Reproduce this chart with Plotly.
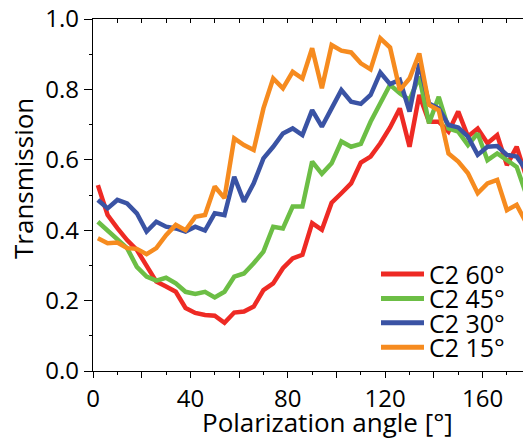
import plotly.graph_objects as go

angles = [2, 6, 10, 14, 18, 22, 26, 30, 34, 38, 42, 46, 50, 54, 58, 62, 66, 70, 74, 78,
          82, 86, 90, 94, 98, 102, 106, 110, 114, 118, 122, 126, 130, 134, 138, 142, 146,
          150, 154, 158, 162, 166, 170, 174, 178]

c2_60 = [0.528, 0.443, 0.406, 0.372, 0.344, 0.301, 0.254, 0.240, 0.225, 0.179, 0.165, 0.159,
         0.157, 0.137, 0.166, 0.169, 0.183, 0.230, 0.249, 0.292, 0.320, 0.330, 0.420, 0.401,
         0.478, 0.505, 0.533, 0.592, 0.609, 0.647, 0.692, 0.746, 0.637, 0.784, 0.708, 0.708,
         0.680, 0.737, 0.666, 0.689, 0.647, 0.670, 0.585, 0.637, 0.550]

c2_45 = [0.424, 0.400, 0.377, 0.349, 0.296, 0.268, 0.257, 0.265, 0.249, 0.225, 0.219, 0.225,
         0.209, 0.225, 0.268, 0.277, 0.306, 0.339, 0.410, 0.405, 0.467, 0.467, 0.595, 0.560,
         0.590, 0.652, 0.637, 0.645, 0.708, 0.760, 0.813, 0.789, 0.770, 0.836, 0.704, 0.779,
         0.689, 0.680, 0.642, 0.675, 0.599, 0.618, 0.599, 0.580, 0.500]

c2_30 = [0.486, 0.462, 0.486, 0.476, 0.448, 0.396, 0.424, 0.410, 0.405, 0.396, 0.410, 0.399,
         0.448, 0.443, 0.552, 0.481, 0.533, 0.604, 0.637, 0.675, 0.689, 0.670, 0.741, 0.694,
         0.746, 0.798, 0.765, 0.759, 0.784, 0.848, 0.815, 0.827, 0.737, 0.874, 0.760, 0.746,
         0.699, 0.692, 0.666, 0.614, 0.637, 0.639, 0.614, 0.609, 0.570]

c2_15 = [0.377, 0.363, 0.365, 0.349, 0.347, 0.332, 0.349, 0.386, 0.415, 0.400, 0.438, 0.443,
         0.524, 0.491, 0.661, 0.642, 0.628, 0.746, 0.831, 0.803, 0.850, 0.831, 0.917, 0.803,
         0.926, 0.910, 0.905, 0.874, 0.857, 0.945, 0.919, 0.798, 0.831, 0.902, 0.756, 0.741,
         0.618, 0.595, 0.562, 0.505, 0.533, 0.543, 0.457, 0.472, 0.420]

series_names = ["C2 60°", "C2 45°", "C2 30°", "C2 15°"]
series_values = [c2_60, c2_45, c2_30, c2_15]
colors = ["#EE2A24", "#6CBE45", "#3A53A4", "#F68B1F"]

x_tickvals = [0, 20, 40, 60, 80, 100, 120, 140, 160]
x_ticktext = ["0", "", "40", "", "80", "", "120", "", "160"]
y_tickvals = [0.0, 0.2, 0.4, 0.6, 0.8, 1.0]
y_ticktext = ["0.0", "0.2", "0.4", "0.6", "0.8", "1.0"]

FONT = "Open Sans, sans-serif"
XMAX = 176.6
W, H = 523, 439
ML, MR, MT, MB = 93, 0, 19, 68
PW, PH = W - ML - MR, H - MT - MB


def px_x(p):
    return (p - ML) / PW


def px_y(p):
    return (H - MB - p) / PH


fig = go.Figure()
for name, vals, col in zip(series_names, series_values, colors):
    fig.add_trace(go.Scatter(x=angles, y=vals, mode="lines", name=name,
                             line=dict(color=col, width=4.5), showlegend=False))
# helper trace so the mirrored top axis is drawn
fig.add_trace(go.Scatter(x=[None], y=[None], xaxis="x2", showlegend=False,
                         hoverinfo="skip"))

# legend (drawn as swatch + label, compact row spacing like the reference)
shapes = []
annotations = []
row_top, row_step = 274, 24.4
for i, (name, col) in enumerate(zip(series_names, colors)):
    yy = px_y(row_top + i * row_step)
    shapes.append(dict(type="line", xref="paper", yref="paper",
                       x0=px_x(381), x1=px_x(424), y0=yy, y1=yy,
                       line=dict(color=col, width=5)))
    annotations.append(dict(text=name, xref="paper", yref="paper",
                            x=px_x(427), y=yy, xanchor="left", yanchor="middle",
                            showarrow=False, font=dict(size=25, family=FONT)))

annotations.append(dict(text="Polarization angle [°]", xref="paper", yref="paper",
                        x=px_x(327.5), y=px_y(422), xanchor="center", yanchor="middle",
                        showarrow=False, font=dict(size=26, family=FONT)))
annotations.append(dict(text="Transmission", xref="paper", yref="paper",
                        x=px_x(23), y=px_y(179), xanchor="center", yanchor="middle",
                        textangle=-90, showarrow=False, font=dict(size=26, family=FONT)))

fig.update_layout(
    width=W, height=H,
    margin=dict(l=ML, r=MR, t=MT, b=MB),
    paper_bgcolor="white", plot_bgcolor="white",
    font=dict(family=FONT, color="black", size=24),
    showlegend=False,
    xaxis=dict(range=[0, XMAX], tickvals=x_tickvals, ticktext=x_ticktext,
               ticks="outside", ticklen=6, tickwidth=1, tickcolor="black",
               showline=True, linecolor="black", linewidth=1.3,
               showgrid=False, zeroline=False,
               tickfont=dict(size=24, family=FONT),
               minor=dict(dtick=10, ticks="outside", ticklen=3, tickcolor="black")),
    xaxis2=dict(range=[0, XMAX], overlaying="x", side="top", dtick=10, tick0=0,
                ticks="inside", ticklen=4, tickcolor="black",
                showticklabels=False, showline=True, linecolor="black", linewidth=1.3,
                showgrid=False, zeroline=False),
    yaxis=dict(range=[0, 1.0], tickvals=y_tickvals, ticktext=y_ticktext,
               ticks="outside", ticklen=8, tickwidth=1, tickcolor="black",
               showline=True, linecolor="black", linewidth=1.3,
               showgrid=False, zeroline=False,
               tickfont=dict(size=24, family=FONT),
               minor=dict(dtick=0.1, ticks="outside", ticklen=3, tickcolor="black")),
    shapes=shapes,
    annotations=annotations,
)

fig.write_html("out.html")
